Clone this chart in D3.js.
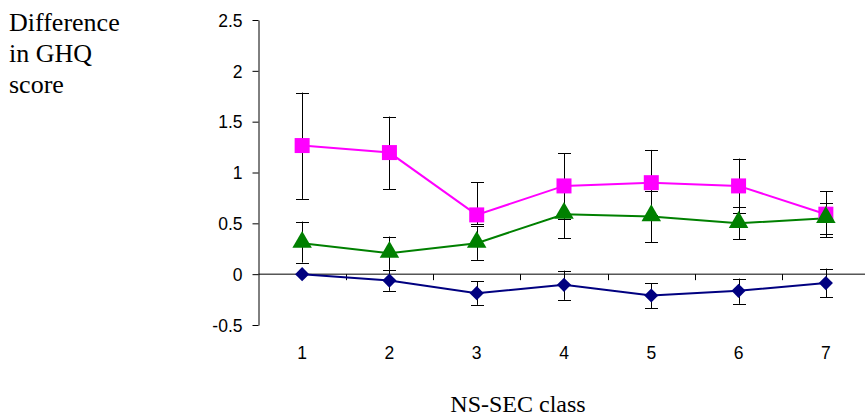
<!DOCTYPE html>
<html lang="en">
  <head>
    <meta charset="UTF-8" />
    <title>Difference in GHQ score by NS-SEC class</title>
    <script src="https://d3js.org/d3.v7.min.js"></script>
    <style>
      * {
        margin: 0;
        padding: 0;
      }

      body {
        background: #ffffff;
        overflow: hidden;
      }
    </style>
  </head>

  <body>
    <div id="chart"></div>

    <script>
      // categories (NS-SEC class)
      const classes = ["1", "2", "3", "4", "5", "6", "7"];
      const yTicks = [-0.5, 0, 0.5, 1, 1.5, 2, 2.5];

      // series values: mean difference and error bar ends
      const navyMean = [0, -0.063, -0.187, -0.105, -0.21, -0.164, -0.088];
      const navyLow = [0, -0.164, -0.302, -0.253, -0.334, -0.292, -0.226];
      const navyHigh = [0, 0.038, -0.069, 0.035, -0.088, -0.043, 0.055];

      const pinkMean = [1.265, 1.196, 0.583, 0.868, 0.9, 0.868, 0.59];
      const pinkLow = [0.74, 0.836, 0.49, 0.546, 0.578, 0.6, 0.364];
      const pinkHigh = [1.786, 1.55, 0.905, 1.19, 1.222, 1.137, 0.816];

      const greenMean = [0.305, 0.206, 0.305, 0.59, 0.566, 0.5, 0.55];
      const greenLow = [0.114, 0.042, 0.14, 0.354, 0.315, 0.344, 0.396];
      const greenHigh = [0.517, 0.37, 0.47, 0.826, 0.817, 0.659, 0.704];

      const W = 865,
        H = 418;
      const sans = "'Liberation Sans', Arial, sans-serif";
      const serif = "'Liberation Serif', 'Times New Roman', serif";

      const svg = d3
        .select("#chart")
        .append("svg")
        .attr("width", W)
        .attr("height", H);

      const x = d3
        .scaleBand()
        .domain(classes)
        .range([258.5, 869.5])
        .padding(0);

      const y = d3.scaleLinear().domain([-0.5, 2.5]).range([325, 20]);

      // Y axis
      const yAxis = svg
        .append("g")
        .attr("transform", `translate(${x.range()[0]},0)`)
        .call(
          d3
            .axisLeft(y)
            .tickValues(yTicks)
            .tickSize(6)
            .tickSizeOuter(0)
            .tickPadding(10)
            .tickFormat((d) => String(d))
        )
        .attr("font-family", sans)
        .attr("font-size", 17.5);
      yAxis.select(".domain").attr("stroke", "#000");
      yAxis.selectAll(".tick line").attr("stroke", "#000");
      yAxis.selectAll(".tick text").attr("fill", "#000").attr("dy", "0.36em");

      // X axis line at zero with ticks between categories
      const xAxis = svg.append("g").attr("transform", `translate(0,${y(0)})`);
      xAxis
        .append("line")
        .attr("x1", x.range()[0])
        .attr("x2", x.range()[1])
        .attr("stroke", "#000")
        .attr("stroke-width", 1);
      xAxis
        .selectAll(".xtick")
        .data(classes.slice(1))
        .enter()
        .append("line")
        .attr("x1", (d) => Math.round(x(d)) + 0.5)
        .attr("x2", (d) => Math.round(x(d)) + 0.5)
        .attr("y1", 0)
        .attr("y2", 6)
        .attr("stroke", "#000");

      // category labels below plot
      svg
        .append("g")
        .attr("font-family", sans)
        .attr("font-size", 17.5)
        .selectAll("text")
        .data(classes)
        .enter()
        .append("text")
        .attr("x", (d) => x(d) + x.bandwidth() / 2)
        .attr("y", 359)
        .attr("text-anchor", "middle")
        .text((d) => d);

      // axis titles
      const yTitle = svg
        .append("text")
        .attr("font-family", serif)
        .attr("font-size", 26)
        .attr("x", 9)
        .attr("y", 31);
      ["Difference", "in GHQ", "score"].forEach((t, i) => {
        yTitle
          .append("tspan")
          .attr("x", 9)
          .attr("dy", i === 0 ? 0 : 31)
          .text(t);
      });

      svg
        .append("text")
        .attr("font-family", serif)
        .attr("font-size", 24)
        .attr("x", 518)
        .attr("y", 412)
        .attr("text-anchor", "middle")
        .text("NS-SEC class");

      const series = [
        { mean: navyMean, low: navyLow, high: navyHigh, color: "#000080", shape: "diamond" },
        { mean: pinkMean, low: pinkLow, high: pinkHigh, color: "#ff00ff", shape: "square" },
        { mean: greenMean, low: greenLow, high: greenHigh, color: "#008000", shape: "triangle" },
      ];

      const cx = (i) => x(classes[i]) + x.bandwidth() / 2;

      // error bars
      series.forEach((s) => {
        const g = svg.append("g").attr("stroke", "#000").attr("stroke-width", 1);
        s.mean.forEach((m, i) => {
          if (s.low[i] === s.high[i]) return;
          const px = Math.round(cx(i)) + 0.5;
          g.append("line")
            .attr("x1", px)
            .attr("x2", px)
            .attr("y1", y(s.low[i]))
            .attr("y2", y(s.high[i]));
          [s.low[i], s.high[i]].forEach((v) => {
            const py = Math.round(y(v)) + 0.5;
            g.append("line")
              .attr("x1", px - 6.5)
              .attr("x2", px + 6.5)
              .attr("y1", py)
              .attr("y2", py);
          });
        });
      });

      // lines
      const line = d3
        .line()
        .x((d, i) => cx(i))
        .y((d) => y(d));
      series.forEach((s) => {
        svg
          .append("path")
          .datum(s.mean)
          .attr("fill", "none")
          .attr("stroke", s.color)
          .attr("stroke-width", 2)
          .attr("d", line);
      });

      // markers
      const symbols = {
        diamond: d3.symbol().type(d3.symbolSquare).size(100),
        square: d3.symbol().type(d3.symbolSquare).size(225),
        triangle: d3.symbol().type(d3.symbolTriangle).size(165),
      };
      series.forEach((s) => {
        svg
          .append("g")
          .selectAll("path")
          .data(s.mean)
          .enter()
          .append("path")
          .attr("d", symbols[s.shape])
          .attr("fill", s.color)
          .attr("transform", (d, i) => {
            const rot = s.shape === "diamond" ? " rotate(45)" : "";
            const dy = s.shape === "triangle" ? -1 : 0;
            return `translate(${cx(i)},${y(d) + dy})${rot}`;
          });
      });
    </script>
  </body>
</html>
